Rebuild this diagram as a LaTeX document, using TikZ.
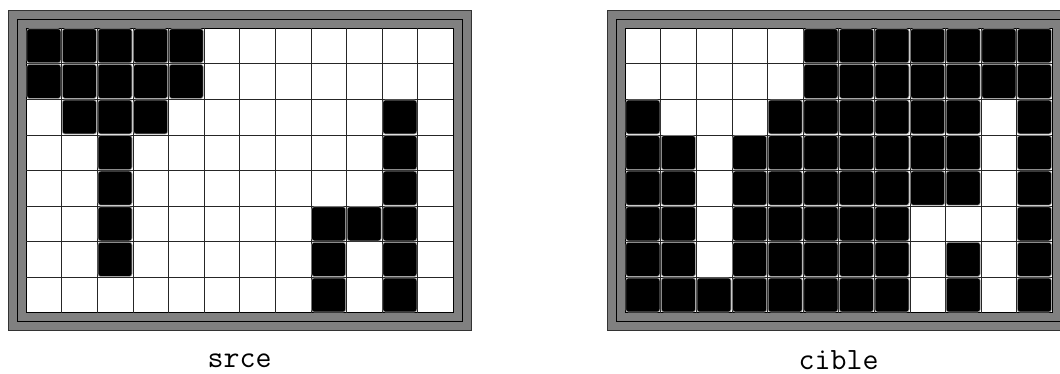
\documentclass[tikz,border=0pt]{standalone}
\usepackage{tikz}
\usetikzlibrary{calc}

\begin{document}
\begin{tikzpicture}[
  x=1pt,y=-1pt,
  outerbox/.style={fill=gray,draw=black!80,line width=0.8pt},
  midline/.style={draw=black,line width=0.7pt},
  board/.style={fill=white,draw=black,line width=0.9pt},
  gridline/.style={draw=black!85,line width=0.5pt},
  cell/.style={fill=black,draw=gray!70,line width=0.6pt,rounded corners=2.5pt},
  lbl/.style={font=\fontsize{31}{31}\selectfont\ttfamily,anchor=base}
]
  \useasboundingbox (0,0) rectangle (1060,374);
  \clip (0,0) rectangle (1060,374);
  \def\s{35.6}
  % frames and grids
  \foreach \ox in {26,625} {
    \draw[outerbox] ({\ox-18},10) rectangle ({\ox+12*\s+18},330);
    \draw[midline] ({\ox-9},19) rectangle ({\ox+12*\s+9},321);
    \draw[board] (\ox,28) rectangle ({\ox+12*\s},{28+8*\s});
    \foreach \i in {1,...,11}
      \draw[gridline] ({\ox+\i*\s},28) -- ({\ox+\i*\s},{28+8*\s});
    \foreach \j in {1,...,7}
      \draw[gridline] (\ox,{28+\j*\s}) -- ({\ox+12*\s},{28+\j*\s});
  }
  % srce
  \foreach \r/\cols in {1/{1,...,5},2/{1,...,5},3/{2,3,4,11},4/{3,11},
                        5/{3,11},6/{3,9,10,11},7/{3,9,11},8/{9,11}}
    \foreach \c in \cols
      \draw[cell] ({26+(\c-1)*\s+0.8},{28+(\r-1)*\s+0.8})
        rectangle ({26+\c*\s-0.8},{28+\r*\s-0.8});
  % cible
  \foreach \r/\cols in {1/{6,...,12},2/{6,...,12},3/{1,5,6,7,8,9,10,12},
                        4/{1,2,4,5,6,7,8,9,10,12},5/{1,2,4,5,6,7,8,9,10,12},
                        6/{1,2,4,5,6,7,8,12},7/{1,2,4,5,6,7,8,10,12},
                        8/{1,...,8,10,12}}
    \foreach \c in \cols
      \draw[cell] ({625+(\c-1)*\s+0.8},{28+(\r-1)*\s+0.8})
        rectangle ({625+\c*\s-0.8},{28+\r*\s-0.8});
  % labels
  \node[lbl] (srce) at (239.6,367) {srce};
  \node[lbl] (cible) at (838.6,369) {cible};
\end{tikzpicture}
\end{document}
